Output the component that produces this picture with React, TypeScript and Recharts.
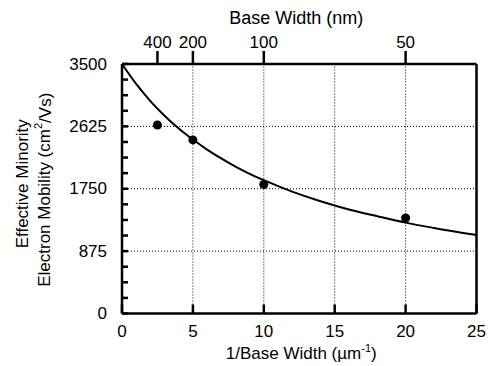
import React from 'react';
import { ComposedChart, Line, Scatter, XAxis, YAxis, ReferenceLine, Label } from 'recharts';

// fitted curve
const curveX = [0, 1, 2, 3, 4, 5, 6, 7, 8, 9, 10, 12, 14, 16, 18, 20, 22, 25];
const curveMobility = [3500, 3220, 2980, 2775, 2595, 2440, 2300, 2175, 2060, 1960, 1870, 1710, 1575, 1460, 1365, 1275, 1200, 1100];

// measured points
const measuredX = [2.5, 5, 10, 20];
const measuredMobility = [2645, 2435, 1810, 1340];

// axes
const xMajorTicks = [0, 5, 10, 15, 20, 25];
const yMajorTicks = [0, 875, 1750, 2625, 3500];
const topTickX = [2.5, 5, 10, 20];
const topTickLabels = ['400', '200', '100', '50'];
const gridX = [5, 10, 15, 20];
const gridY = [875, 1750, 2625];

const xMinorTicks = Array.from({ length: 26 }, (_, i) => i);
const yMinorTicks = Array.from({ length: 17 }, (_, i) => i * 218.75);

const curveData = curveX.map((x, i) => ({ x, mu: curveMobility[i] }));
const pointData = measuredX.map((x, i) => ({ x, mu: measuredMobility[i] }));

const FONT = '"Liberation Sans", Arial, Helvetica, sans-serif';
const FS = 17;
const THIN = 0.01; // axes need a non-zero size to draw

const BOTTOM_MAJOR = 9;
const TOP_MAJOR = 13;
const MINOR = 5;
const SIDE = 6;

const BottomLabel = (props: any) => {
  const { x, y, payload } = props;
  return (
    <text x={x} y={y + BOTTOM_MAJOR + 24} textAnchor="middle" fontSize={FS} fontFamily={FONT} fill="#000">
      {payload.value}
    </text>
  );
};

const TopLabel = (props: any) => {
  const { x, y, payload } = props;
  const idx = topTickX.indexOf(payload.value);
  return (
    <text x={x} y={y - 3} textAnchor="middle" fontSize={FS} fontFamily={FONT} fill="#000">
      {topTickLabels[idx]}
    </text>
  );
};

const LeftLabel = (props: any) => {
  const { x, y, payload } = props;
  if (!yMajorTicks.includes(payload.value)) return null;
  return (
    <text x={x - SIDE - 15} y={y} textAnchor="end" dominantBaseline="central" fontSize={FS} fontFamily={FONT} fill="#000">
      {payload.value}
    </text>
  );
};

const BottomTitle = (props: any) => {
  const { x, y, width } = props.viewBox;
  return (
    <text x={x + width / 2 + 2} y={y + 46} textAnchor="middle" fontSize={FS} fontFamily={FONT} fill="#000">
      1/Base Width (µm
      <tspan dy={-7} fontSize={11}>-1</tspan>
      <tspan dy={7}>)</tspan>
    </text>
  );
};

const TopTitle = (props: any) => {
  const { x, width } = props.viewBox;
  return (
    <text x={x + width / 2 - 3} y={24} textAnchor="middle" fontSize={18} fontFamily={FONT} fill="#000">
      Base Width (nm)
    </text>
  );
};

const LeftTitle = (props: any) => {
  const { y, height } = props.viewBox;
  const c1 = y + height / 2 - 5;
  const c2 = y + height / 2 + 1;
  return (
    <g>
      <text x={23} y={c1} transform={`rotate(-90 23 ${c1})`} textAnchor="middle" dominantBaseline="central" fontSize={FS} fontFamily={FONT} fill="#000">
        Effective Minority
      </text>
      <text x={45} y={c2} transform={`rotate(-90 45 ${c2})`} textAnchor="middle" dominantBaseline="central" fontSize={FS} fontFamily={FONT} fill="#000">
        Electron Mobility (cm
        <tspan dy={-7} fontSize={11}>2</tspan>
        <tspan dy={7}>/Vs)</tspan>
      </text>
    </g>
  );
};

const axisLine = { stroke: '#000', strokeWidth: 2.5 };
const minorLine = { stroke: '#000', strokeWidth: 2.5 };
const majorLine = { stroke: '#000', strokeWidth: 2.5 };

export default function App() {
  return (
    <div style={{ position: 'absolute', left: 0, top: 0, background: '#fff' }}>
      <ComposedChart width={493} height={366} margin={{ top: 64, right: 16.5, bottom: 52.5, left: 122 }}>
        {gridX.map((gx) => (
          <ReferenceLine key={`gx-${gx}`} x={gx} xAxisId="bottom" yAxisId="left" stroke="#000" strokeWidth={1} strokeDasharray="1 2" />
        ))}
        {gridY.map((gy) => (
          <ReferenceLine key={`gy-${gy}`} y={gy} xAxisId="bottom" yAxisId="left" stroke="#000" strokeWidth={1} strokeDasharray="1 2" />
        ))}

        {/* bottom: inward minor ticks + frame line */}
        <XAxis
          xAxisId="bottom"
          dataKey="x"
          type="number"
          domain={[0, 25]}
          ticks={xMinorTicks}
          interval={0}
          height={THIN}
          mirror
          tickSize={MINOR}
          tickLine={minorLine}
          tick={false}
          axisLine={axisLine}
        >
          <Label content={<BottomTitle />} />
        </XAxis>
        {/* bottom: inward major ticks + labels */}
        <XAxis
          xAxisId="bottomMajor"
          dataKey="x"
          type="number"
          domain={[0, 25]}
          ticks={xMajorTicks}
          interval={0}
          height={THIN}
          mirror
          tickSize={BOTTOM_MAJOR}
          tickMargin={0}
          tickLine={majorLine}
          tick={<BottomLabel />}
          axisLine={false}
        />
        {/* top: inward minor ticks + frame line */}
        <XAxis
          xAxisId="top"
          dataKey="x"
          orientation="top"
          type="number"
          domain={[0, 25]}
          ticks={xMinorTicks}
          interval={0}
          height={THIN}
          mirror
          tickSize={MINOR}
          tickLine={minorLine}
          tick={false}
          axisLine={axisLine}
        >
          <Label content={<TopTitle />} />
        </XAxis>
        {/* top: base width in nm, outward ticks */}
        <XAxis
          xAxisId="topMajor"
          dataKey="x"
          orientation="top"
          type="number"
          domain={[0, 25]}
          ticks={topTickX}
          interval={0}
          height={THIN}
          tickSize={TOP_MAJOR}
          tickMargin={0}
          tickLine={majorLine}
          tick={<TopLabel />}
          axisLine={false}
        />
        <YAxis
          yAxisId="left"
          dataKey="mu"
          type="number"
          domain={[0, 3500]}
          ticks={yMinorTicks}
          interval={0}
          width={THIN}
          mirror
          tickSize={SIDE}
          tickMargin={0}
          tickLine={minorLine}
          tick={<LeftLabel />}
          axisLine={axisLine}
        >
          <Label content={<LeftTitle />} />
        </YAxis>
        <YAxis
          yAxisId="right"
          dataKey="mu"
          orientation="right"
          type="number"
          domain={[0, 3500]}
          ticks={yMinorTicks}
          interval={0}
          width={THIN}
          mirror
          tickSize={SIDE}
          tickLine={minorLine}
          tick={false}
          axisLine={axisLine}
        />

        {/* invisible series so the extra axes get their ticks */}
        {['bottomMajor', 'top', 'topMajor'].map((id) => (
          <Line
            key={id}
            data={curveData}
            dataKey="mu"
            xAxisId={id}
            yAxisId="right"
            stroke="none"
            dot={false}
            activeDot={false}
            isAnimationActive={false}
            legendType="none"
          />
        ))}

        <Line
          data={curveData}
          dataKey="mu"
          xAxisId="bottom"
          yAxisId="left"
          type="monotone"
          stroke="#000"
          strokeWidth={2}
          dot={false}
          activeDot={false}
          isAnimationActive={false}
        />
        <Scatter
          data={pointData}
          dataKey="mu"
          xAxisId="bottom"
          yAxisId="left"
          fill="#000"
          isAnimationActive={false}
          shape={(p: any) => <circle cx={p.cx} cy={p.cy} r={4.5} fill="#000" />}
        />
      </ComposedChart>
    </div>
  );
}
